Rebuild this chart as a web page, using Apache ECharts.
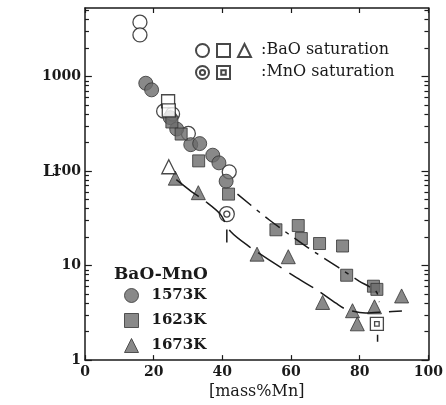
<!DOCTYPE html>
<html><head><meta charset="utf-8">
<script src="https://cdn.jsdelivr.net/npm/echarts@6/dist/echarts.min.js"></script>
<style>html,body{margin:0;padding:0;background:#fff}#c{width:446px;height:405px}</style>
</head><body><div id="c"></div>
<script>
// ---- data ----
const yMajorValues = [1, 10, 100, 1000];
const yMinorValues = [2,3,4,5,6,7,8,9,20,30,40,50,60,70,80,90,200,300,400,500,600,700,800,900,2000,3000,4000,5000];

const c1573 = [[17.7,848],[19.4,722],[24.8,367],[26.7,278],[30.8,190],[33.4,195],[37.2,147],[39.0,122],[41.1,78]];
const c1573BaO = [[16.0,3750],[16.0,2750],[22.9,430],[25.5,400],[30.1,250],[42.0,98]];
const c1573MnO = [[41.3,35]];
const s1623 = [[25.3,330],[28.0,246],[33.1,128],[41.8,57],[55.6,23.9],[62.1,26.5],[63.0,19.3],[68.3,17.1],[75.0,16.1],[76.2,7.9],[84.0,6.05],[85.0,5.6]];
const s1623BaO = [[24.2,547],[24.4,437]];
const s1623MnO = [[85.0,2.42]];
const t1673 = [[26.3,84],[33.0,59],[50.1,13.2],[59.2,12.4],[69.2,4.07],[77.9,3.33],[79.3,2.42],[84.3,3.66],[92.2,4.77]];
const t1673BaO = [[24.4,111]];
const fit1623 = [[44.4,57],[53.6,30.5],[64.8,15.6],[73.9,9.5],[79.7,6.9],[84.8,5.3],[85.7,4.1]];
const fit1673 = [[26.6,81],[30.9,61],[35.0,48],[39.3,35.3],[42.4,22.9],[48.1,15.6],[53.6,11.5],[61.6,7.45],[68.2,5.33],[73.1,4.0],[75.9,3.47],[81.7,3.15],[87.4,3.23],[92.3,3.31]];
const satLine1573 = [[41.3,24],[41.3,17.5]];
const satLine1623 = [[85.2,1.85],[85.2,1.56]];

// ---- chart ----
const SERIF = 'DejaVu Serif';
const INK = '#1a1a1a';
const FILL = '#6c6c6c';
const X_MIN = 0, X_MAX = 100, Y_MIN = 1, Y_MAX = 5300;
const MAJOR_LEN = 2.0, MINOR_LEN = 1.15;   // inward tick lengths, in x-axis units
const DBL_CIRCLE = 'path://M20,10A10,10,0,1,1,0,10A10,10,0,1,1,20,10ZM14,10A4,4,0,1,1,6,10A4,4,0,1,1,14,10Z';
const SQ_IN_SQ = 'path://M0,0H20V20H0ZM6.5,6.5H13.5V13.5H6.5Z';

const filledStyle = {color: FILL, borderColor: '#333', borderWidth: 1};
const openStyle = {color: '#fff', borderColor: INK, borderWidth: 1.3};

// y-axis tick marks on both frame sides, as mark lines placed through the axis scales
function yTickLines(values, len) {
  const out = [];
  values.forEach(v => {
    out.push([{coord: [X_MIN, v]}, {coord: [X_MIN + len, v]}]);
    out.push([{coord: [X_MAX, v]}, {coord: [X_MAX - len, v]}]);
  });
  return out;
}
const tickMarkLine = {
  silent: true, symbol: 'none', animation: false,
  label: {show: false}, emphasis: {disabled: true},
  lineStyle: {color: INK, width: 1.2, type: 'solid'},
  data: yTickLines(yMajorValues, MAJOR_LEN).concat(yTickLines(yMinorValues, MINOR_LEN))
};

const xTick = {show: true, inside: true, length: 5, lineStyle: {color: INK, width: 1.2}};

const option = {
  animation: false,
  backgroundColor: '#fff',
  grid: {left: 85, right: 12, top: 8, bottom: 38},
  title: [
    {text: ':BaO saturation', left: 261, top: 42, padding: 0, textStyle: {fontFamily: SERIF, fontWeight: 'normal', fontSize: 16, color: INK}},
    {text: ':MnO saturation', left: 261, top: 64, padding: 0, textStyle: {fontFamily: SERIF, fontWeight: 'normal', fontSize: 16, color: INK}},
    {text: 'BaO-MnO', left: 114, top: 266, padding: 0, textStyle: {fontFamily: SERIF, fontWeight: 'bold', fontSize: 17, color: INK}},
    {text: '{L|L}{r|r}', left: 43, top: 164, padding: 0, textStyle: {rich: {
      L: {fontFamily: SERIF, fontWeight: 'bold', fontSize: 16, color: INK},
      r: {fontFamily: SERIF, fontWeight: 'normal', fontSize: 14, color: INK}
    }}}
  ],
  legend: [
    {orient: 'vertical', left: 124, top: 288, padding: 0, itemWidth: 14, itemHeight: 14, itemGap: 10, selectedMode: false,
     data: ['1573K', '1623K', '1673K'],
     itemStyle: {borderWidth: 1},
     textStyle: {fontFamily: SERIF, fontWeight: 'bold', fontSize: 15, color: INK, padding: [0, 0, 0, 8]}},
    {orient: 'horizontal', left: 195, top: 43, padding: 0, itemWidth: 13, itemHeight: 13, itemGap: 6, selectedMode: false,
     data: ['BaO sat. 1573K', 'BaO sat. 1623K', 'BaO sat. 1673K'], formatter: () => ''},
    {orient: 'horizontal', left: 195, top: 65, padding: 0, itemWidth: 13, itemHeight: 13, itemGap: 6, selectedMode: false,
     data: ['MnO sat. 1573K', 'MnO sat. 1623K'], formatter: () => ''}
  ],
  xAxis: [
    {type: 'value', min: X_MIN, max: X_MAX, interval: 20, position: 'bottom',
     axisLine: {onZero: false, lineStyle: {color: INK, width: 1.5}},
     axisTick: xTick,
     axisLabel: {fontFamily: SERIF, fontWeight: 'bold', fontSize: 14, color: INK, margin: 5},
     splitLine: {show: false},
     name: '[mass%Mn]', nameLocation: 'middle', nameGap: 20,
     nameTextStyle: {fontFamily: SERIF, fontSize: 16, color: INK, verticalAlign: 'top'}},
    {type: 'value', min: X_MIN, max: X_MAX, interval: 20, position: 'top',
     axisLine: {onZero: false, lineStyle: {color: INK, width: 1.5}},
     axisTick: xTick, axisLabel: {show: false}, splitLine: {show: false}}
  ],
  yAxis: [
    {type: 'log', logBase: 10, min: Y_MIN, max: Y_MAX, position: 'left',
     axisLine: {show: true, onZero: false, lineStyle: {color: INK, width: 1.5}},
     axisTick: {show: false},
     axisLabel: {customValues: yMajorValues, fontFamily: SERIF, fontWeight: 'bold', fontSize: 14, color: INK, margin: 4,
       formatter: v => String(Math.round(v))},
     splitLine: {show: false}, minorTick: {show: false}},
    {type: 'log', logBase: 10, min: Y_MIN, max: Y_MAX, position: 'right',
     axisLine: {show: true, onZero: false, lineStyle: {color: INK, width: 1.5}},
     axisTick: {show: false}, axisLabel: {show: false}, splitLine: {show: false}}
  ],
  series: [
    {type: 'line', data: fit1623, smooth: 0.3, showSymbol: false, silent: true,
     lineStyle: {color: INK, width: 1.5, type: [18, 7, 4, 7]},
     markLine: tickMarkLine},
    {type: 'line', data: fit1673, smooth: 0.3, showSymbol: false, silent: true,
     lineStyle: {color: INK, width: 1.5, type: [28, 9]}},
    {type: 'line', data: satLine1573, showSymbol: false, silent: true, lineStyle: {color: INK, width: 1.5}},
    {type: 'line', data: satLine1623, showSymbol: false, silent: true, lineStyle: {color: INK, width: 1.5}},
    {name: 'BaO sat. 1573K', type: 'scatter', data: c1573BaO, symbol: 'circle', symbolSize: 14, itemStyle: openStyle},
    {name: '1573K', type: 'scatter', data: c1573, symbol: 'circle', symbolSize: 14, itemStyle: filledStyle},
    {name: '1623K', type: 'scatter', data: s1623, symbol: 'rect', symbolSize: 12, itemStyle: filledStyle},
    {name: 'BaO sat. 1623K', type: 'scatter', data: s1623BaO, symbol: 'rect', symbolSize: 13, itemStyle: openStyle},
    {name: '1673K', type: 'scatter', data: t1673, symbol: 'triangle', symbolSize: 14, itemStyle: filledStyle},
    {name: 'BaO sat. 1673K', type: 'scatter', data: t1673BaO, symbol: 'triangle', symbolSize: 14, itemStyle: openStyle},
    {name: 'MnO sat. 1573K', type: 'scatter', data: c1573MnO, symbol: DBL_CIRCLE, symbolSize: 15, itemStyle: openStyle},
    {name: 'MnO sat. 1623K', type: 'scatter', data: s1623MnO, symbol: SQ_IN_SQ, symbolSize: 13, itemStyle: openStyle}
  ]
};
const chart = echarts.init(document.getElementById('c'), null, {renderer: 'canvas'});
chart.setOption(option);
</script>
</body></html>
